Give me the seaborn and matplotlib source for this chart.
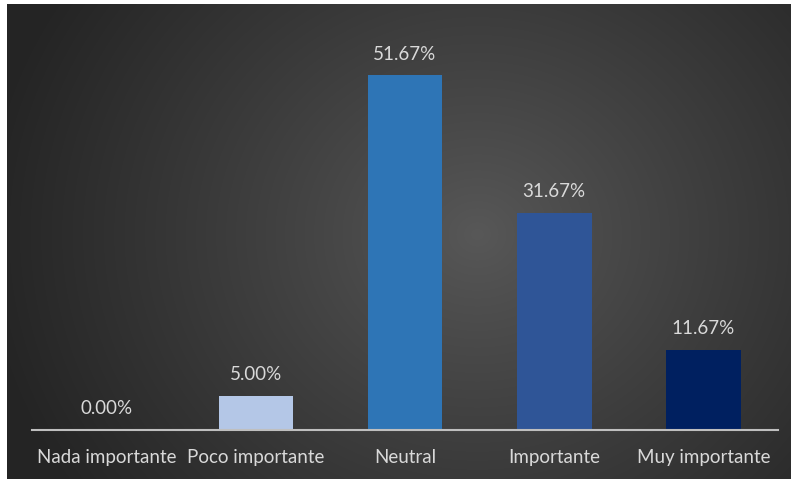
import numpy as np
import pandas as pd
import matplotlib
matplotlib.use("Agg")
import matplotlib.pyplot as plt
import seaborn as sns

categories = ["Nada importante", "Poco importante", "Neutral", "Importante", "Muy importante"]
percentages = [0.00, 5.00, 51.67, 31.67, 11.67]
bar_colors = ["#DAE3F3", "#B4C7E7", "#2E75B6", "#2F5597", "#002060"]

sns.set_theme(style="white")
plt.rcParams["font.family"] = ["Lato", "DejaVu Sans"]

W, H = 791, 479
fig = plt.figure(figsize=(W / 100, H / 100), dpi=100)
fig.patch.set_facecolor("white")

# dark radial gradient backdrop
bg = fig.add_axes([7 / W, 0, (W - 7) / W, (H - 4) / H])
bg.set_axis_off()
yy, xx = np.mgrid[0:H - 4, 0:W - 7]
cx, cy = 470, 230
r = np.sqrt(((xx - cx) / 1.0) ** 2 + ((yy - cy) / 0.9) ** 2)
t = np.clip(r / 500, 0, 1) ** 0.9
inner = np.array([0x58, 0x58, 0x58]) / 255
outer = np.array([0x24, 0x24, 0x24]) / 255
img = inner[None, None, :] * (1 - t[..., None]) + outer[None, None, :] * t[..., None]
bg.imshow(img, aspect="auto", extent=[0, 1, 0, 1], interpolation="bilinear")

left, right = 32 / W, 778 / W
bottom = (H - 430) / H
height = 412 / H
ax = fig.add_axes([left, bottom, right - left, height])
ax.patch.set_alpha(0)

df = pd.DataFrame({"categoria": categories, "porcentaje": percentages})
sns.barplot(data=df, x="categoria", y="porcentaje", hue="categoria",
            palette=bar_colors, legend=False, width=0.5, ax=ax, saturation=1,
            linewidth=0, edgecolor="none")

ax.set_xlim(-0.5, len(categories) - 0.5)
ax.set_ylim(0, 60)
ax.set_xlabel("")
ax.set_ylabel("")
ax.set_yticks([])
for s in ["top", "right", "left"]:
    ax.spines[s].set_visible(False)
ax.spines["bottom"].set_color("#BFBFBF")
ax.spines["bottom"].set_linewidth(1.5)
ax.tick_params(axis="x", length=0, pad=14, labelsize=13.5, labelcolor="#D9D9D9")

for i, v in enumerate(percentages):
    ax.annotate(f"{v:.2f}%", (i, v), xytext=(0, 9), textcoords="offset points",
                ha="center", va="bottom", fontsize=13.5, color="#D9D9D9")

fig.savefig("out.png", dpi=100, facecolor=fig.get_facecolor())
